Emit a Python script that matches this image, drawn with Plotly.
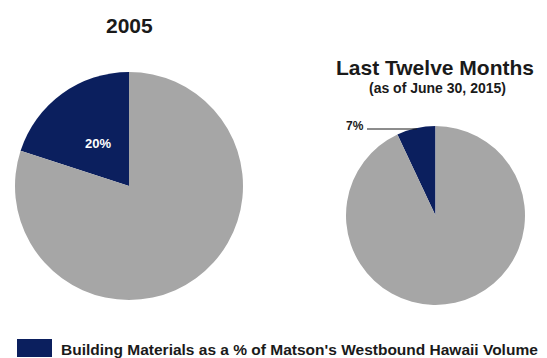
import plotly.graph_objects as go

W, H = 547, 358

# Share of westbound Hawaii volume (percent)
slice_labels = ["Building Materials", "Other"]
share_2005 = [20, 80]
share_ltm = [7, 93]

pie_titles = ["2005", "Last Twelve Months"]
ltm_subtitle = "(as of June 30, 2015)"
legend_text = "Building Materials as a % of Matson's Westbound Hawaii Volume"

NAVY = "#0b1f5e"
GRAY = "#a6a6a6"
INK = "#1a1a1a"
FONT = "Liberation Sans, Arial, sans-serif"


def px_x(x):
    return x / W


def px_y(y):
    return 1 - y / H


def lead_rotation(values):
    # start the first slice so that it ends at 12 o'clock (sweeping left of it)
    return -360.0 * values[0] / sum(values)


fig = go.Figure()

fig.add_trace(go.Pie(
    labels=slice_labels,
    values=share_2005,
    sort=False,
    direction="clockwise",
    rotation=lead_rotation(share_2005),
    marker=dict(colors=[NAVY, GRAY], line=dict(width=0)),
    textinfo="none",
    domain=dict(x=[px_x(15), px_x(243)], y=[px_y(300), px_y(72)]),
    showlegend=False,
    hoverinfo="label+percent",
))

fig.add_trace(go.Pie(
    labels=slice_labels,
    values=share_ltm,
    sort=False,
    direction="clockwise",
    rotation=lead_rotation(share_ltm),
    marker=dict(colors=[NAVY, GRAY], line=dict(width=0)),
    textinfo="none",
    domain=dict(x=[px_x(346), px_x(525)], y=[px_y(305), px_y(126)]),
    showlegend=False,
    hoverinfo="label+percent",
))

annotations = [
    dict(text="<b>%s</b>" % pie_titles[0], x=px_x(129), y=px_y(26),
         font=dict(family=FONT, size=21, color=INK)),
    dict(text="<b>%s</b>" % pie_titles[1], x=px_x(435), y=px_y(67),
         font=dict(family=FONT, size=21, color=INK)),
    dict(text="<b>%s</b>" % ltm_subtitle, x=px_x(437), y=px_y(88),
         font=dict(family=FONT, size=14, color=INK)),
    # value label inside the 2005 building-materials slice
    dict(text="<b>%d%%</b>" % share_2005[0], x=px_x(98), y=px_y(143),
         font=dict(family=FONT, size=13, color="white")),
    # callout label for the small slice
    dict(text="<b>%d%%</b>" % share_ltm[0], x=px_x(366), y=px_y(126),
         xanchor="right", font=dict(family=FONT, size=12, color=INK)),
    dict(text="<b>%s</b>" % legend_text, x=px_x(59), y=px_y(349),
         xanchor="left", font=dict(family=FONT, size=15.5, color=INK)),
]
for a in annotations:
    a.setdefault("xanchor", "center")
    a.update(xref="paper", yref="paper", yanchor="middle", showarrow=False)

shapes = [
    # leader line from the callout to the slice
    dict(type="line", xref="paper", yref="paper",
         x0=px_x(367), x1=px_x(417), y0=px_y(129), y1=px_y(129),
         line=dict(color=INK, width=1)),
    # legend swatch
    dict(type="rect", xref="paper", yref="paper",
         x0=px_x(17), x1=px_x(52), y0=px_y(357), y1=px_y(339),
         fillcolor=NAVY, line=dict(width=0)),
]

fig.update_layout(
    width=W, height=H,
    margin=dict(l=0, r=0, t=0, b=0),
    paper_bgcolor="white",
    plot_bgcolor="white",
    annotations=annotations,
    shapes=shapes,
)

fig.write_html("out.html")
